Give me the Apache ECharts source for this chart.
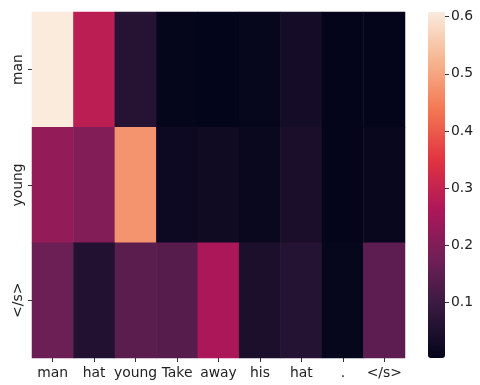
<!DOCTYPE html>
<html>
<head>
<meta charset="utf-8">
<script src="https://cdn.jsdelivr.net/npm/echarts@6/dist/echarts.min.js"></script>
<style>
  html, body { margin: 0; padding: 0; background: #fff; }
  #chart { width: 480px; height: 385px; }
</style>
</head>
<body>
<div id="chart"></div>
<script>
// Attention weights: source tokens (columns) vs. generated tokens (rows)
const sourceTokens = ['man', 'hat', 'young', 'Take', 'away', 'his', 'hat', '.', '</s>'];
const targetTokens = ['man', 'young', '</s>'];

const weightsMan   = [0.608, 0.284, 0.063, 0.007, 0.003, 0.008, 0.034, 0.004, 0.005];
const weightsYoung = [0.224, 0.202, 0.477, 0.022, 0.025, 0.015, 0.043, 0.005, 0.013];
const weightsEos   = [0.170, 0.057, 0.144, 0.138, 0.261, 0.046, 0.062, 0.008, 0.150];

const colorbarTicks = [0.1, 0.2, 0.3, 0.4, 0.5, 0.6];

// "rocket" sequential palette stops, dark to light
const rocket = ['#03051A', '#35193E', '#701F57', '#AD1759', '#E13342', '#F37651', '#F6B48F', '#FAEBDD'];

const rows = [weightsMan, weightsYoung, weightsEos];
const cells = [];
rows.forEach((row, r) => row.forEach((v, c) => cells.push([c, r, v])));
const all = rows.flat();
const vMin = Math.min(...all);
const vMax = Math.max(...all);

const textColor = '#222';
const font = 'DejaVu Sans';
const fontSize = 13.9;
const tickStyle = { show: true, length: 4, lineStyle: { color: '#333', width: 1 } };

const chart = echarts.init(document.getElementById('chart'), null, { renderer: 'canvas' });
chart.setOption({
  animation: false,
  backgroundColor: '#fff',
  grid: [
    { left: 32, top: 12, width: 373, height: 346 },
    { left: 428, top: 12, width: 17, height: 346 }
  ],
  xAxis: [
    {
      type: 'category', gridIndex: 0, data: sourceTokens,
      axisLine: { show: false },
      axisTick: Object.assign({ alignWithLabel: true }, tickStyle),
      axisLabel: { color: textColor, fontFamily: font, fontSize: fontSize, margin: 8, interval: 0 },
      splitLine: { show: false }
    },
    { type: 'category', gridIndex: 1, data: ['c'], show: false }
  ],
  yAxis: [
    {
      type: 'category', gridIndex: 0, data: targetTokens, inverse: true,
      axisLine: { show: false },
      axisTick: Object.assign({ alignWithLabel: true }, tickStyle),
      axisLabel: { color: textColor, fontFamily: font, fontSize: fontSize, rotate: 90, margin: 7 },
      splitLine: { show: false }
    },
    {
      type: 'value', gridIndex: 1, position: 'right', min: vMin, max: vMax,
      axisLine: { show: false },
      axisTick: Object.assign({ customValues: colorbarTicks }, tickStyle),
      axisLabel: {
        customValues: colorbarTicks, color: textColor, fontFamily: font, fontSize: fontSize, margin: 6,
        formatter: v => v.toFixed(1)
      },
      splitLine: { show: false }
    }
  ],
  visualMap: {
    type: 'continuous',
    seriesIndex: 0,
    min: vMin,
    max: vMax,
    calculable: false,
    realtime: false,
    orient: 'vertical',
    left: 428,
    top: 12,
    itemWidth: 17,
    itemHeight: 346,
    padding: 0,
    text: null,
    showLabel: false,
    inRange: { color: rocket }
  },
  series: [{
    type: 'heatmap',
    xAxisIndex: 0,
    yAxisIndex: 0,
    data: cells,
    itemStyle: { borderWidth: 0 },
    emphasis: { disabled: true },
    progressive: 0
  }]
});
</script>
</body>
</html>
